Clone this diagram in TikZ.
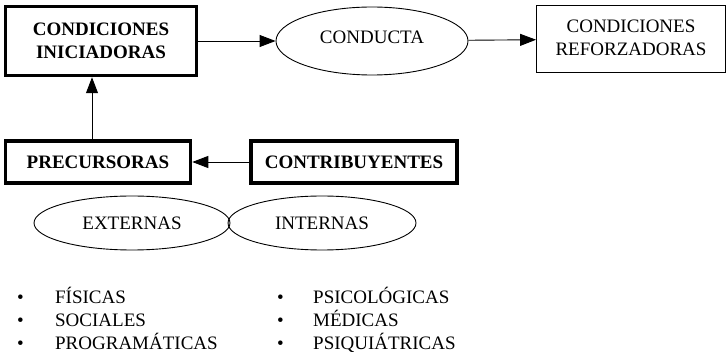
\documentclass[tikz,border=0pt]{standalone}
\usepackage{fontspec}
\setmainfont{Liberation Serif}
\usepackage{tikz}
\usetikzlibrary{shapes, positioning, arrows.meta}

\begin{document}
\begin{tikzpicture}[x=1pt, y=-1pt,
        every node/.style={font=\fontsize{19}{23}\selectfont, align=center, inner sep=0pt},
        bigbox/.style={rectangle, draw, line width=3.5pt, font=\fontsize{19}{23}\selectfont\bfseries},
        thinbox/.style={rectangle, draw, line width=0.9pt},
        oval/.style={ellipse, draw, line width=0.9pt},
        item/.style={anchor=base west, align=left},
        arr/.style={line width=0.9pt, -{Triangle[length=16pt, width=12pt]}}]
        \useasboundingbox (0, 0) rectangle (727, 352);

        \node[bigbox, minimum width=191pt, minimum height=69pt] (ini) at (101, 41) {CONDICIONES\\INICIADORAS};
        \node[oval, minimum width=192pt, minimum height=68pt] (cond) at (372, 41) {\raisebox{8pt}{CONDUCTA}};
        \node[thinbox, minimum width=189pt, minimum height=67pt] (ref) at (631, 39) {\raisebox{8pt}{\begin{tabular}{@{}c@{}}CONDICIONES\\REFORZADORAS\end{tabular}}};
        \node[bigbox, minimum width=185pt, minimum height=42pt] (pre) at (98, 162) {PRECURSORAS};
        \node[bigbox, minimum width=206pt, minimum height=42pt] (con) at (354, 162) {CONTRIBUYENTES};
        \node[oval, minimum width=196pt, minimum height=54pt] (ext) at (132, 223) {EXTERNAS};
        \node[oval, minimum width=188pt, minimum height=54pt] (int) at (322, 223) {INTERNAS};

        \node[item] (fis) at (17, 303) {\makebox[38pt][l]{\textbullet}FÍSICAS};
        \node[item] (soc) at (17, 326) {\makebox[38pt][l]{\textbullet}SOCIALES};
        \node[item] (pro) at (17, 349) {\makebox[38pt][l]{\textbullet}PROGRAMÁTICAS};
        \node[item] (psi) at (277, 303) {\makebox[36pt][l]{\textbullet}PSICOLÓGICAS};
        \node[item] (med) at (277, 326) {\makebox[36pt][l]{\textbullet}MÉDICAS};
        \node[item] (pq) at (277, 349) {\makebox[36pt][l]{\textbullet}PSIQUIÁTRICAS};

        \draw[arr] (ini) -- (cond);
        \draw[arr] (cond) -- (ref);
        \draw[arr] (con) -- (pre);
        \draw[arr] (pre.north -| ini) ++(-9, 0) coordinate (p) -- (p |- ini.south);
    \end{tikzpicture}
\end{document}
